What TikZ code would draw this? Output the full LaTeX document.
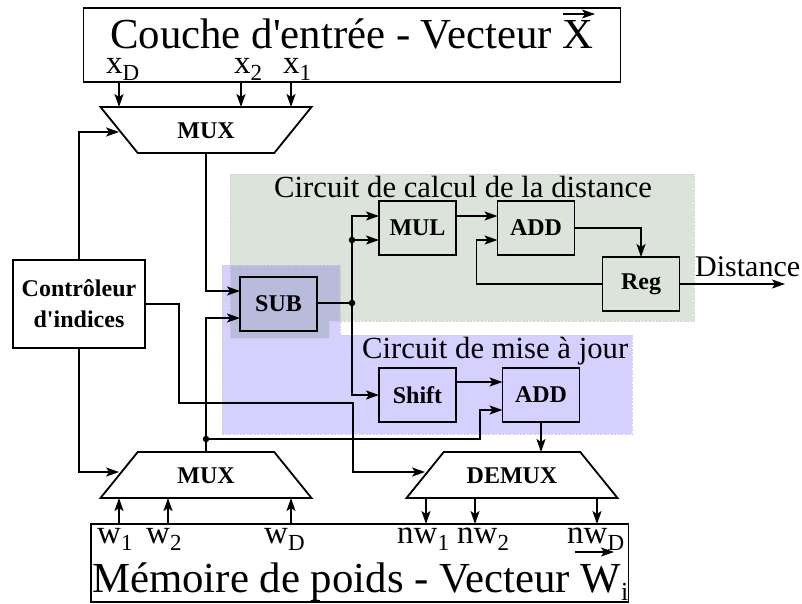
\documentclass[tikz,border=0pt]{standalone}
\usepackage{fontspec}
\setmainfont{Liberation Serif}
\usetikzlibrary{shapes.geometric}
\usetikzlibrary{arrows.meta}
\definecolor{zonegreen}{HTML}{DCE3DB}
\definecolor{zoneblue}{HTML}{D5D0FE}
\definecolor{zoneboth}{HTML}{B8BBD9}
\tikzset{
  wire/.style={line width=1.8pt,-{Stealth[length=13pt,width=9pt,inset=3pt]}},
  plainwire/.style={line width=1.8pt},
  block/.style={draw,line width=1.8pt,minimum width=77pt,minimum height=54pt,outer sep=0pt,font=\fontsize{24}{31}\selectfont\bfseries},
  bar/.style={draw,line width=1.4pt,outer sep=0pt},
  muxdown/.style={draw,line width=1.8pt,trapezium,trapezium stretches body,trapezium left angle=#1,trapezium right angle=#1,minimum width=211pt,text height=17pt,text depth=0pt,inner ysep=14.5pt,inner xsep=0pt,outer sep=0pt,font=\fontsize{24}{30}\selectfont\bfseries},
  big/.style={anchor=base west,inner sep=0pt,text depth=0pt,font=\fontsize{42.8}{43}\selectfont},
  mid/.style={anchor=base west,inner sep=0pt,font=\fontsize{30.7}{31}\selectfont},
  pin/.style={anchor=base west,inner sep=0pt,text depth=0pt,font=\fontsize{33}{33}\selectfont},
  junction/.style={circle,fill,inner sep=0pt,minimum size=6.5pt},
  zone/.style={draw=black!18,dash pattern=on 2pt off 1.5pt,line width=1pt}
}
\newcommand{\lowidx}[1]{\raisebox{-7pt}[0pt][0pt]{\fontsize{23}{23}\selectfont #1}}
\begin{document}
\begin{tikzpicture}[x=1pt,y=-1pt]
  \useasboundingbox (0,0) rectangle (802,603);

  \fill[zonegreen,zone] (230,174)--(694,174)--(694,321)--(329,321)--(329,338)--(230,338)--cycle;
  \fill[zoneblue,zone] (222,265)--(340,265)--(340,335)--(632,335)--(632,434)--(222,434)--cycle;
  \fill[zoneboth,zone] (230,265)--(340,265)--(340,321)--(329,321)--(329,338)--(230,338)--cycle;

  \node[bar,minimum width=537pt,minimum height=74pt] (couche) at (352,45) {};
  \node[bar,minimum width=537.5pt,minimum height=78pt] (memoire) at (359.75,563) {};
  \node[big] (titrex) at (110,48) {Couche d\textquotesingle entrée - Vecteur X};
  \node[big] (titrew) at (92,592) {Mémoire de poids - Vecteur W\raisebox{-8pt}[0pt][0pt]{\fontsize{26}{26}\selectfont i}};
  \coordinate (flecheXa) at (563,14);
  \coordinate (flecheXb) at (595,14);
  \coordinate (flecheWa) at (575,552);
  \coordinate (flecheWb) at (614,552);
  \draw[wire] (flecheXa)--(flecheXb);
  \draw[wire] (flecheWa)--(flecheWb);

  \node[pin] (xD) at (106,73) {x\lowidx{D}};
  \node[pin] (x2) at (234,73) {x\lowidx{2}};
  \node[pin] (x1) at (283,73) {x\lowidx{1}};
  \node[pin] (w1) at (97,543) {w\lowidx{1}};
  \node[pin] (w2) at (146,543) {w\lowidx{2}};
  \node[pin] (wD) at (264,543) {w\lowidx{D}};
  \node[pin] (nw1) at (397,543) {nw\lowidx{1}};
  \node[pin] (nw2) at (457,543) {nw\lowidx{2}};
  \node[pin] (nwD) at (567,543) {nw\lowidx{D}};

  \node[muxdown=129] (muxtop) at (206,130) {MUX};
  \node[muxdown=51] (muxbot) at (206,475) {MUX};
  \node[muxdown=51] (demux) at (512,475) {DEMUX};

  \node[block,minimum width=132pt,minimum height=88pt,align=center] (ctrl) at (79,304) {Contrôleur\\d\textquotesingle indices};
  \node[block] (sub) at (278.5,304) {SUB};
  \node[block] (mul) at (417.5,228) {MUL};
  \node[block] (add) at (536,228) {ADD};
  \node[block] (reg) at (641,284) {Reg};
  \node[block] (shift) at (417.5,395) {Shift};
  \node[block] (addmaj) at (541,395) {ADD};

  \node[mid] (titrecalc) at (274,197) {Circuit de calcul de la distance};
  \node[mid] (titremaj) at (362,358) {Circuit de mise à jour};
  \node[mid,font=\fontsize{30}{30}\selectfont] (distance) at (695,276) {Distance};

  \node[junction] (jsub) at (352,303) {};
  \node[junction] (jmul) at (352,240) {};
  \node[junction] (jmux) at (206,439) {};
  \coordinate (sortie) at (785,284);

  \foreach \px in {119,241,291}
    \draw[wire] (\px,0 |- couche.south)--(\px,0 |- muxtop.north);
  \foreach \px in {119,168,291}
    \draw[wire] (\px,0 |- memoire.north)--(\px,0 |- muxbot.south);
  \foreach \px in {426,475,597}
    \draw[wire] (\px,0 |- demux.south)--(\px,0 |- memoire.north);

  \draw[wire] (ctrl.north) |- ([yshift=-2pt]muxtop.west);
  \draw[wire] (ctrl.south) |- ([yshift=3pt]muxbot.west);
  \draw[wire] (ctrl.east)--++(34,0)--++(0,99)--++(174,0) |- ([yshift=3pt]demux.west);

  \draw[wire] (muxtop.south) |- ([yshift=13pt]sub.west);
  \draw[wire] (muxbot.north) |- ([yshift=-14pt]sub.west);
  \draw[wire] (jmux)--++(274,0) |- ([yshift=-15pt]addmaj.west);

  \draw[plainwire] ([yshift=1pt]sub.east)--(jsub);
  \draw[wire] (jsub) |- ([yshift=12pt]mul.west);
  \draw[wire] (jmul)--([yshift=-12pt]mul.west);
  \draw[wire] (jsub) |- (shift.west);

  \draw[wire] ([yshift=12pt]mul.east)--([yshift=12pt]add.west);
  \draw[wire] (add.east) -| (reg.north);
  \draw[wire] (reg.west)--++(-126,0) |- ([yshift=-12pt]add.west);
  \draw[wire] (reg.east)--(sortie);

  \draw[wire] ([yshift=13pt]shift.east)--([yshift=13pt]addmaj.west);
  \draw[wire] (addmaj.south)--(addmaj.south |- demux.north);
\end{tikzpicture}
\end{document}
